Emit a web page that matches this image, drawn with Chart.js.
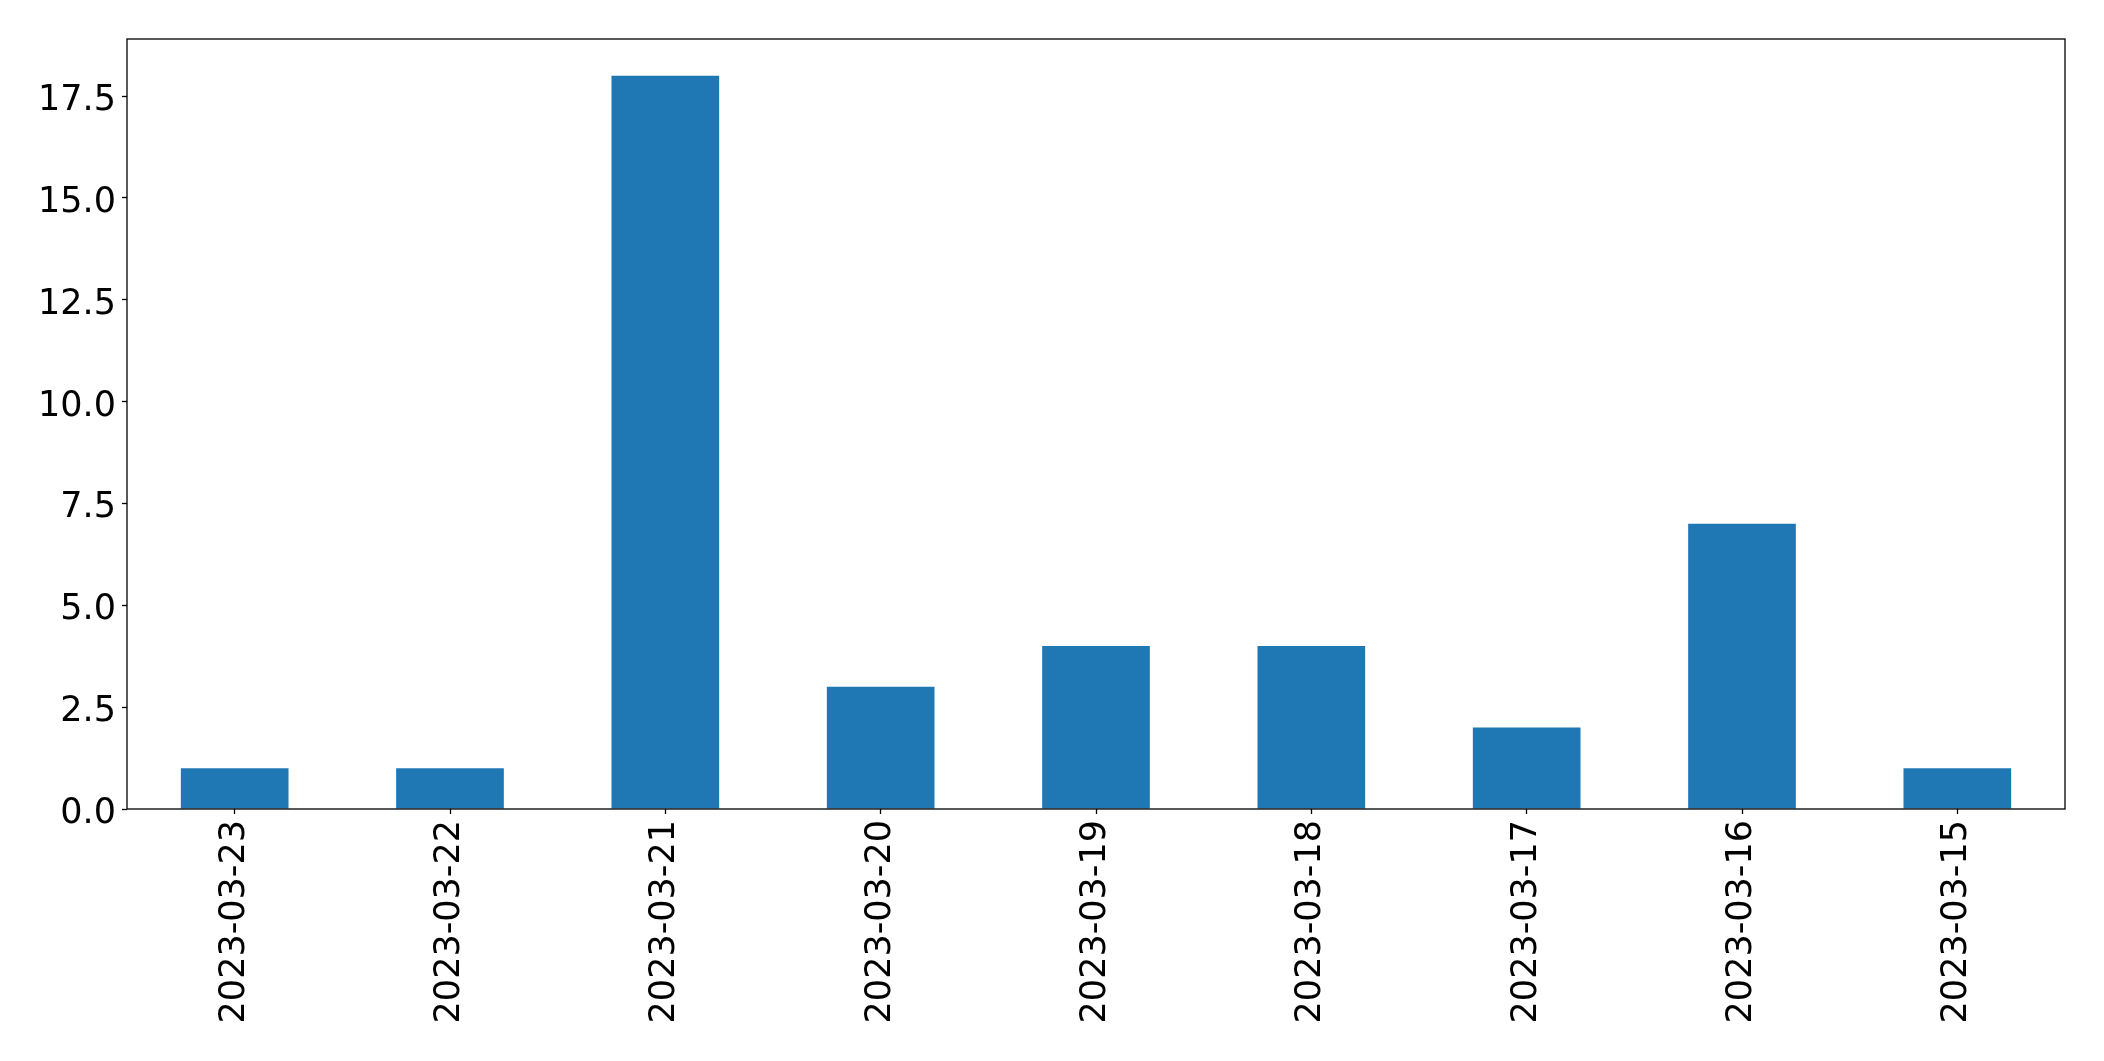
<!DOCTYPE html>
<html>
<head>
<meta charset="utf-8">
<script src="https://cdn.jsdelivr.net/npm/chart.js@4"></script>
<style>
html,body{margin:0;padding:0;background:#fff;overflow:hidden;}
canvas{display:block;}
</style>
</head>
<body>
<canvas id="c" width="2104" height="1061"></canvas>
<script>
const categories = ["2023-03-23","2023-03-22","2023-03-21","2023-03-20","2023-03-19","2023-03-18","2023-03-17","2023-03-16","2023-03-15"];
const counts = [1, 1, 18, 3, 4, 4, 2, 7, 1];
const yMax = 18.9;
const yStep = 2.5;

const frame = {
  id: 'frame',
  afterDraw(chart) {
    const a = chart.chartArea, ctx = chart.ctx;
    ctx.save();
    ctx.strokeStyle = '#000';
    ctx.lineWidth = 1.3;
    ctx.strokeRect(a.left, a.top, a.right - a.left, a.bottom - a.top);
    ctx.restore();
  }
};

new Chart(document.getElementById('c'), {
  type: 'bar',
  data: {
    labels: categories,
    datasets: [{
      data: counts,
      backgroundColor: '#1f77b4',
      borderWidth: 0,
      barPercentage: 0.5,
      categoryPercentage: 1.0
    }]
  },
  options: {
    responsive: false,
    devicePixelRatio: 1,
    animation: false,
    layout: { padding: { top: 39, right: 39, left: 0, bottom: 0 } },
    plugins: { legend: { display: false }, tooltip: { enabled: false } },
    scales: {
      x: {
        offset: true,
        afterFit(s) { s.height = 252; },
        grid: { display: true, offset: false, drawOnChartArea: false, drawTicks: true, tickLength: 5, tickColor: '#000', tickWidth: 1.3 },
        border: { display: false },
        ticks: {
          color: '#000',
          font: { family: 'DejaVu Sans', size: 35 },
          minRotation: 90, maxRotation: 90,
          padding: 6,
          autoSkip: false
        }
      },
      y: {
        min: 0,
        max: yMax,
        afterFit(s) { s.width = 127; },
        grid: { display: true, drawOnChartArea: false, drawTicks: true, tickLength: 5, tickColor: '#000', tickWidth: 1.3 },
        border: { display: false },
        ticks: {
          stepSize: yStep,
          includeBounds: false,
          color: '#000',
          font: { family: 'DejaVu Sans', size: 35, lineHeight: 0.28 },
          padding: 6,
          callback: v => ['', Number(v).toFixed(1)]
        }
      }
    }
  },
  plugins: [frame]
});
</script>
</body>
</html>
